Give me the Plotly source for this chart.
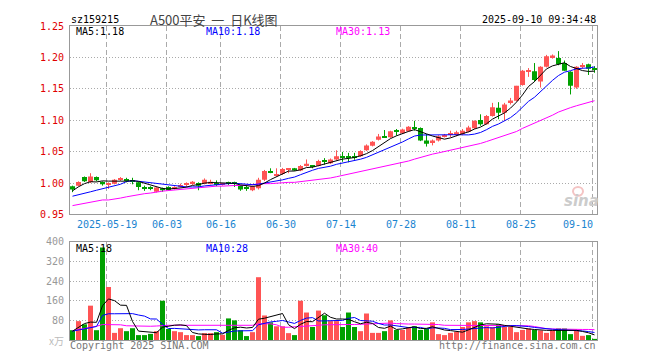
import pandas as pd
import plotly.graph_objects as go

# ---------------- data ----------------
dates = pd.bdate_range('2025-05-09', '2025-09-10', freq='C',
                       holidays=['2025-06-02']).strftime('%Y-%m-%d').tolist()

open_ = [0.9948, 0.9958, 1.0094, 1.0016, 1.0094, 1.0016, 0.9974, 0.9990, 1.0052, 1.0063,
         1.0042, 1.0010, 0.9922, 0.9917, 0.9860, 0.9917, 0.9937, 0.9906, 0.9948, 0.9979,
         0.9990, 1.0000, 0.9990, 0.9990, 1.0000, 0.9969, 1.0000, 1.0000, 0.9958, 0.9917,
         0.9885, 0.9917, 1.0052, 1.0182, 1.0115, 1.0146, 1.0220, 1.0234, 1.0198, 1.0271,
         1.0266, 1.0276, 1.0349, 1.0313, 1.0375, 1.0422, 1.0417, 1.0427, 1.0427, 1.0521,
         1.0594, 1.0688, 1.0729, 1.0729, 1.0823, 1.0792, 1.0823, 1.0886, 1.0875, 1.0677,
         1.0635, 1.0677, 1.0745, 1.0766, 1.0766, 1.0781, 1.0818, 1.0870, 1.1005, 1.0937,
         1.1068, 1.1198, 1.1120, 1.1287, 1.1310, 1.1562, 1.1770, 1.1780, 1.1615, 1.1850,
         1.2005, 1.1990, 1.1910, 1.1770, 1.1520, 1.1860, 1.1890, 1.1823]
high = [0.9958, 1.0026, 1.0104, 1.0156, 1.0104, 1.0026, 1.0010, 1.0063, 1.0094, 1.0083,
        1.0083, 1.0021, 0.9958, 0.9948, 0.9932, 0.9927, 0.9948, 0.9948, 0.9990, 1.0010,
        1.0031, 1.0010, 1.0073, 1.0052, 1.0042, 1.0000, 1.0021, 1.0021, 0.9969, 0.9958,
        0.9958, 1.0083, 1.0208, 1.0234, 1.0234, 1.0240, 1.0234, 1.0240, 1.0286, 1.0375,
        1.0286, 1.0370, 1.0396, 1.0391, 1.0521, 1.0495, 1.0480, 1.0480, 1.0521, 1.0615,
        1.0667, 1.0781, 1.0844, 1.0833, 1.0860, 1.0865, 1.0906, 1.0990, 1.0885, 1.0781,
        1.0693, 1.0760, 1.0781, 1.0833, 1.0833, 1.0860, 1.0911, 1.0995, 1.1094, 1.1083,
        1.1276, 1.1287, 1.1276, 1.1355, 1.1547, 1.1800, 1.1830, 1.1910, 1.1860, 1.2040,
        1.2047, 1.2100, 1.1950, 1.1780, 1.1860, 1.1910, 1.1900, 1.1860]
low = [0.9854, 0.9948, 1.0016, 1.0000, 1.0026, 0.9958, 0.9906, 0.9979, 1.0031, 1.0010,
       0.9979, 0.9885, 0.9875, 0.9885, 0.9850, 0.9860, 0.9880, 0.9896, 0.9927, 0.9937,
       0.9969, 0.9885, 0.9979, 0.9979, 0.9948, 0.9958, 0.9969, 0.9937, 0.9875, 0.9875,
       0.9870, 0.9896, 1.0031, 1.0156, 1.0104, 1.0130, 1.0156, 1.0193, 1.0188, 1.0260,
       1.0234, 1.0266, 1.0292, 1.0302, 1.0360, 1.0338, 1.0330, 1.0370, 1.0417, 1.0510,
       1.0583, 1.0677, 1.0719, 1.0719, 1.0755, 1.0781, 1.0813, 1.0833, 1.0667, 1.0580,
       1.0599, 1.0661, 1.0724, 1.0729, 1.0745, 1.0760, 1.0807, 1.0860, 1.0911, 1.0930,
       1.1057, 1.1016, 1.0990, 1.1250, 1.1300, 1.1550, 1.1690, 1.1610, 1.1520, 1.1840,
       1.1980, 1.1875, 1.1786, 1.1410, 1.1500, 1.1820, 1.1720, 1.1755]
close = [0.9896, 1.0016, 1.0026, 1.0104, 1.0042, 0.9979, 1.0000, 1.0052, 1.0073, 1.0042,
         1.0021, 0.9937, 0.9911, 0.9906, 0.9927, 0.9885, 0.9890, 0.9937, 0.9969, 0.9990,
         1.0021, 0.9958, 1.0052, 1.0021, 0.9979, 0.9990, 0.9990, 0.9990, 0.9896, 0.9906,
         0.9948, 1.0052, 1.0193, 1.0172, 1.0130, 1.0224, 1.0229, 1.0198, 1.0271, 1.0307,
         1.0255, 1.0349, 1.0339, 1.0375, 1.0427, 1.0411, 1.0406, 1.0411, 1.0510, 1.0599,
         1.0656, 1.0740, 1.0719, 1.0823, 1.0818, 1.0850, 1.0896, 1.0865, 1.0677, 1.0625,
         1.0677, 1.0745, 1.0766, 1.0781, 1.0807, 1.0833, 1.0885, 1.0990, 1.0937, 1.1068,
         1.1208, 1.1120, 1.1250, 1.1313, 1.1547, 1.1786, 1.1786, 1.1640, 1.1850, 1.2020,
         1.2030, 1.1890, 1.1786, 1.1550, 1.1850, 1.1875, 1.1820, 1.1810]
volume = [40, 77, 64, 140, 40, 377, 216, 29, 48, 36, 48, 20, 20, 25, 36, 160, 45, 36, 32, 20,
          20, 16, 28, 28, 32, 21, 88, 80, 40, 16, 32, 256, 100, 72, 56, 56, 28, 20, 160, 112,
          53, 120, 101, 77, 77, 53, 112, 53, 36, 108, 29, 29, 36, 80, 41, 41, 53, 56, 41, 47,
          72, 24, 20, 29, 33, 53, 72, 77, 72, 56, 53, 64, 53, 53, 32, 41, 47, 41, 39, 29,
          40, 47, 47, 24, 39, 17, 20, 4]

# moving-average values whose history lies before the visible window
ma5_head = [0.9875, 0.9940, 0.9990, 1.0020]
ma10_head = [0.979, 0.981, 0.983, 0.986, 0.9885, 0.991, 0.994, 0.996, 0.998]
ma30 = [0.964, 0.966, 0.968, 0.970, 0.971, 0.973, 0.973, 0.974, 0.976, 0.978,
        0.980, 0.982, 0.983, 0.984, 0.986, 0.987, 0.988, 0.989, 0.990, 0.991,
        0.991, 0.992, 0.993, 0.994, 0.995, 0.995, 0.996, 0.996, 0.996, 0.997,
        0.998, 0.998, 0.999, 0.999, 1.000, 1.000, 1.001, 1.001, 1.002, 1.003,
        1.004, 1.005, 1.006, 1.008, 1.010, 1.012, 1.014, 1.016, 1.018, 1.020,
        1.022, 1.024, 1.026, 1.028, 1.030, 1.032, 1.035, 1.038, 1.041, 1.044,
        1.046, 1.048, 1.050, 1.052, 1.054, 1.057, 1.059, 1.061, 1.063, 1.066,
        1.069, 1.072, 1.075, 1.078, 1.082, 1.087, 1.091, 1.095, 1.099, 1.104,
        1.108, 1.113, 1.117, 1.120, 1.123, 1.126, 1.128, 1.131]
vol_ma5_head = [36, 53, 67, 73]
vol_ma10_head = [36, 40, 44, 48, 55, 100, 107, 107, 107]
vol_ma30 = [38, 42, 47, 52, 56, 63, 63, 63, 62, 58, 57, 56, 56, 56, 57, 60, 60, 60, 60, 60,
            60, 60, 60, 60, 60, 60, 60, 60, 60, 60, 60, 66, 66, 66, 62, 52, 52, 53, 56, 58,
            58, 60, 62, 63, 63, 63, 63, 63, 64, 67, 67, 69, 69, 69, 67, 65, 65, 65, 65, 65,
            65, 63, 60, 60, 60, 60, 60, 60, 60, 60, 60, 60, 60, 60, 60, 60, 58, 55, 50, 46,
            45, 44, 44, 44, 44, 43, 43, 42]

tick_dates = ['2025-05-19', '2025-06-03', '2025-06-16', '2025-06-30', '2025-07-14',
              '2025-07-28', '2025-08-11', '2025-08-25', '2025-09-10']
tick_labels = ['2025-05-19', '06-03', '06-16', '06-30', '07-14', '07-28', '08-11', '08-25', '09-10']
price_ticks = [0.95, 1.00, 1.05, 1.10, 1.15, 1.20, 1.25]
vol_ticks = [80, 160, 240, 320, 400]
legend_price = ['MA5:1.18', 'MA10:1.18', 'MA30:1.13']
legend_vol = ['MA5:18', 'MA10:28', 'MA30:40']
title_text = 'A500平安\u00a0\u00a0一\u00a0\u00a0日K线图'

# ---------------- derived ----------------
n = len(dates)
idx = list(range(n))
cs = pd.Series(close)
vs = pd.Series(volume, dtype=float)
ma5 = ma5_head + cs.rolling(5).mean().tolist()[len(ma5_head):]
ma10 = ma10_head + cs.rolling(10).mean().tolist()[len(ma10_head):]
vma5 = vol_ma5_head + vs.rolling(5).mean().tolist()[len(vol_ma5_head):]
vma10 = vol_ma10_head + vs.rolling(10).mean().tolist()[len(vol_ma10_head):]

RED, GREEN = '#ff5454', '#00a000'
up = [c >= o for o, c in zip(open_, close)]
colors = [RED if u else GREEN for u in up]
MIN_BODY = 0.0016
body_base = [min(o, c) for o, c in zip(open_, close)]
body_h = [max(abs(c - o), MIN_BODY) for o, c in zip(open_, close)]
BAR_W = 5 / 6

fig = go.Figure()


def wicks(want_up):
    xs, ys = [], []
    for i in idx:
        if up[i] == want_up:
            xs += [i, i, None]
            ys += [low[i], high[i], None]
    return xs, ys


for want, col in [(True, RED), (False, GREEN)]:
    wx, wy = wicks(want)
    fig.add_trace(go.Scatter(x=wx, y=wy, mode='lines', line=dict(color=col, width=1),
                             xaxis='x', yaxis='y', hoverinfo='skip'))
fig.add_trace(go.Bar(x=idx, y=body_h, base=body_base, width=BAR_W,
                     marker=dict(color=colors, line=dict(width=0)), xaxis='x', yaxis='y'))
for ys, col in [(ma30, '#ff00ff'), (ma10, '#0000ff'), (ma5, '#000000')]:
    fig.add_trace(go.Scatter(x=idx, y=ys, mode='lines', line=dict(color=col, width=1),
                             xaxis='x', yaxis='y'))

fig.add_trace(go.Bar(x=idx, y=volume, width=BAR_W,
                     marker=dict(color=colors, line=dict(width=0)), xaxis='x2', yaxis='y2'))
for ys, col in [(vol_ma30, '#ff00ff'), (vma10, '#0000ff'), (vma5, '#000000')]:
    fig.add_trace(go.Scatter(x=idx, y=ys, mode='lines', line=dict(color=col, width=1),
                             xaxis='x2', yaxis='y2'))

grid_pos = [dates.index(d) - 0.3 for d in tick_dates]
xr = [-0.4167, n - 1 + 0.4167]
FONT = 'DejaVu Sans Mono'
xcommon = dict(range=xr, tickvals=grid_pos, showticklabels=False, ticks='',
               showgrid=True, gridcolor='#aaaaaa', griddash='5px,3px', gridwidth=1,
               showline=True, linecolor='#999999', linewidth=1, mirror=True,
               zeroline=False, fixedrange=True)
ycommon = dict(ticks='', showgrid=True, gridcolor='#aaaaaa', griddash='1px,2px',
               showline=True, linecolor='#999999', linewidth=1, mirror=True,
               zeroline=False, fixedrange=True, ticklabelstandoff=3)

# the page body has an 8px margin, so the figure is 652x352 and starts at (8, 8)
fig.update_layout(
    width=652, height=352, margin=dict(l=62, r=63, t=12, b=20),
    paper_bgcolor='white', plot_bgcolor='white', showlegend=False,
    barmode='overlay', font=dict(family=FONT, size=10),
    xaxis=dict(domain=[0, 1], anchor='y', **xcommon),
    xaxis2=dict(domain=[0, 1], anchor='y2', matches='x', **xcommon),
    yaxis=dict(domain=[0.4, 1], anchor='x', range=[0.95, 1.25], tickvals=price_ticks,
               ticktext=['%.2f' % v for v in price_ticks],
               tickfont=dict(color='#e00000', family=FONT, size=10), **ycommon),
    yaxis2=dict(domain=[0, 0.3125], anchor='x2', range=[0, 400], tickvals=vol_ticks,
                ticktext=[str(v) for v in vol_ticks],
                tickfont=dict(color='#999999', family=FONT, size=10), **ycommon),
)


def px_x(p):
    return (p - 70) / 527


def px_y(p):
    return (340 - p) / 320


ann = []
for d, lab in zip(tick_dates, tick_labels):
    last = d == tick_dates[-1]
    ann.append(dict(x=dates.index(d) - (0.0 if last else 0.3), y=px_y(222), xref='x', yref='paper',
                    text=lab, showarrow=False, xanchor='right' if last else 'center',
                    yanchor='middle', font=dict(color='#1a84d0', size=10, family=FONT)))
ann.append(dict(x=px_x(69), y=px_y(13), xref='paper', yref='paper', text='sz159215',
                showarrow=False, xanchor='left', yanchor='middle',
                font=dict(color='#000000', size=10, family=FONT)))
ann.append(dict(x=px_x(214), y=px_y(13), xref='paper', yref='paper', text=title_text,
                showarrow=False, xanchor='center', yanchor='middle',
                font=dict(color='#444444', size=13, family='Noto Sans CJK SC')))
ann.append(dict(x=px_x(598), y=px_y(13), xref='paper', yref='paper', text='2025-09-10 09:34:48',
                showarrow=False, xanchor='right', yanchor='middle',
                font=dict(color='#000000', size=10, family=FONT)))
for lab, col, xp in zip(legend_price, ['#000000', '#0000ff', '#ff00ff'], [74, 204, 334]):
    ann.append(dict(x=px_x(xp), y=px_y(26), xref='paper', yref='paper', text=lab,
                    showarrow=False, xanchor='left', yanchor='middle',
                    font=dict(color=col, size=10, family=FONT)))
for lab, col, xp in zip(legend_vol, ['#000000', '#0000ff', '#ff00ff'], [74, 204, 334]):
    ann.append(dict(x=px_x(xp), y=px_y(247), xref='paper', yref='paper', text=lab,
                    showarrow=False, xanchor='left', yanchor='middle',
                    font=dict(color=col, size=10, family=FONT)))
ann.append(dict(x=px_x(68), y=px_y(346), xref='paper', yref='paper', text='Copyright 2025 SINA.COM',
                showarrow=False, xanchor='left', yanchor='middle',
                font=dict(color='#777777', size=10, family=FONT)))
ann.append(dict(x=px_x(598), y=px_y(346), xref='paper', yref='paper',
                text='http://finance.sina.com.cn', showarrow=False, xanchor='right',
                yanchor='middle', font=dict(color='#777777', size=10, family=FONT)))
ann.append(dict(x=px_x(66), y=px_y(341), xref='paper', yref='paper', text='x万',
                showarrow=False, xanchor='right', yanchor='middle',
                font=dict(color='#bbbbbb', size=10, family='Noto Sans CJK SC')))
ann.append(dict(x=px_x(581), y=px_y(198), xref='paper', yref='paper', text='<b><i>sina</i></b>',
                showarrow=False, xanchor='center', yanchor='middle',
                font=dict(color='#cccccc', size=15, family='DejaVu Sans')))
fig.update_layout(annotations=ann)
fig.add_shape(type='circle', xref='paper', yref='paper',
              x0=px_x(573), x1=px_x(583), y0=px_y(193), y1=px_y(184),
              line=dict(color='#f4c4c4', width=2), fillcolor='rgba(0,0,0,0)')

fig.write_html('out.html')
